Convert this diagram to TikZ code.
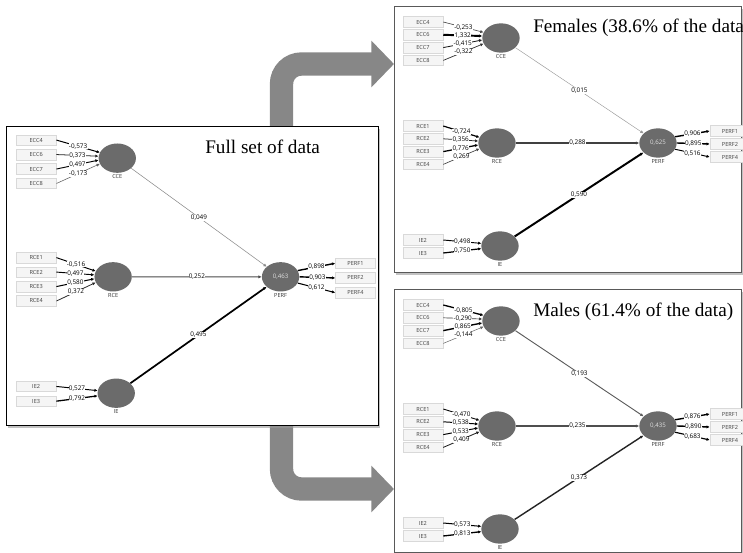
\documentclass[tikz,border=0pt]{standalone}
\usepackage{fontspec}
\setmainfont{Liberation Serif}
\newfontfamily\uifont{Open Sans}
\usetikzlibrary{arrows.meta,shapes.geometric,shadows,backgrounds}

% 小数点换成逗号
\def\splitdot#1.#2\relax{#1,#2}
\newcommand{\commafy}[1]{\expandafter\splitdot#1\relax}

\tikzset{
  panel/.style={draw=gray!70!black, line width=0.8pt, fill=white, inner sep=0pt, anchor=north west,
    drop shadow={shadow xshift=1.2pt, shadow yshift=-1.5pt, fill=gray!80, opacity=0.6}},
  indicator/.style={draw=gray!30, fill=gray!8, minimum width=30pt, minimum height=7.9pt, inner sep=0pt,
    font=\uifont\fontsize{4.2}{4.2}\selectfont, text=black!75},
  construct/.style={ellipse, fill=black!58, minimum width=28pt, minimum height=22pt, inner sep=0pt,
    font=\uifont\fontsize{4.6}{4.6}\selectfont, text=gray!25, label distance=1.5pt},
  conlabel/.style={font=\uifont\fontsize{4.2}{4.2}\selectfont, text=black!80, inner sep=1pt},
  loading/.style={-{Latex[length=2.4pt,width=2.4pt]}},
  numlabel/.style={fill=white, inner sep=0.2pt, font=\uifont\fontsize{4.8}{4.8}\selectfont},
  title/.style={font=\fontsize{14.4}{14.4}\selectfont, inner sep=0pt, anchor=base west},
  bigarrow/.style={draw=black!47, line width=17.5pt, rounded corners=15pt,
    -{Triangle[length=17pt,width=34pt]}}
}

% 一个 PLS 路径模型: 前缀, ECC, RCE, IE, PERF, 路径系数, R2
\newcommand{\plsmodel}[7]{%
  % 潜变量
  \node[construct, label={[conlabel]below:CCE}] (#1CCE) at (107,32) {};
  \node[construct, label={[conlabel]below:RCE}] (#1RCE) at (103,137) {};
  \node[construct, label={[conlabel]below:IE}] (#1IE) at (106,240) {};
  \node[construct, label={[conlabel]below:PERF}] (#1PERF) at (264,137) {#7};
  % 指标 -> 潜变量
  \foreach \n/\v [count=\i] in {#2} {
    \pgfmathsetmacro\yy{16+12.8*(\i-1)}
    \pgfmathtruncatemacro\a{162+12*(\i-1)}
    \pgfmathsetmacro\w{0.25+0.9*abs(\v)}
    \pgfmathtruncatemacro\c{min(100,45+110*abs(\v))}
    \node[indicator] (#1ECC\n) at (29,\yy) {ECC\n};
    \draw[loading, line width=\w pt, draw=black!\c] (#1ECC\n.east) -- (#1CCE.\a)
      node[numlabel, pos=0.5] {\commafy{\v}};
  }
  \foreach \n/\v [count=\i] in {#3} {
    \pgfmathsetmacro\yy{120+12.8*(\i-1)}
    \pgfmathtruncatemacro\a{162+12*(\i-1)}
    \pgfmathsetmacro\w{0.25+0.9*abs(\v)}
    \pgfmathtruncatemacro\c{min(100,45+110*abs(\v))}
    \node[indicator] (#1RCE\n) at (29,\yy) {RCE\n};
    \draw[loading, line width=\w pt, draw=black!\c] (#1RCE\n.east) -- (#1RCE.\a)
      node[numlabel, pos=0.5] {\commafy{\v}};
  }
  \foreach \n/\v [count=\i] in {#4} {
    \pgfmathsetmacro\yy{234+13*(\i-1)}
    \pgfmathtruncatemacro\a{172+16*(\i-1)}
    \pgfmathsetmacro\w{0.25+0.9*abs(\v)}
    \pgfmathtruncatemacro\c{min(100,45+110*abs(\v))}
    \node[indicator] (#1IE\n) at (29,\yy) {IE\n};
    \draw[loading, line width=\w pt, draw=black!\c] (#1IE\n.east) -- (#1IE.\a)
      node[numlabel, pos=0.5] {\commafy{\v}};
  }
  % 潜变量 -> 指标
  \foreach \n/\v [count=\i] in {#5} {
    \pgfmathsetmacro\yy{125+13*(\i-1)}
    \pgfmathtruncatemacro\a{20-20*(\i-1)}
    \pgfmathsetmacro\w{0.25+0.9*abs(\v)}
    \pgfmathtruncatemacro\c{min(100,45+110*abs(\v))}
    \node[indicator] (#1PERF\n) at (336,\yy) {PERF\n};
    \draw[loading, line width=\w pt, draw=black!\c] (#1PERF.\a) -- (#1PERF\n.west)
      node[numlabel, pos=0.5] {\commafy{\v}};
  }
  % 路径系数
  \foreach \s/\v in {#6} {
    \pgfmathsetmacro\w{0.3+2.0*abs(\v)}
    \pgfmathtruncatemacro\c{min(100,40+125*abs(\v))}
    \draw[loading, line width=\w pt, draw=black!\c] (#1\s) -- (#1PERF)
      node[numlabel, midway] {\commafy{\v}};
  }
}

\begin{document}
\begin{tikzpicture}[x=0.75pt, y=-0.75pt]
  \useasboundingbox (0,0) rectangle (743,553);
  \clip (0,0) rectangle (743,553);

  % 三个面板
  \node[panel, draw=black, line width=0.9pt, minimum width=279pt, minimum height=224.25pt] (full) at (6,126) {};
  \node[panel, minimum width=260.25pt, minimum height=199.5pt] (fem) at (394,6) {};
  \node[panel, minimum width=260.25pt, minimum height=197.25pt] (mal) at (394,289) {};

  % 大箭头
  \coordinate (upbend) at (281.5,64);
  \coordinate (downbend) at (281.5,489);
  \begin{scope}[on background layer]
    \draw[bigarrow] (full.north -| upbend) |- (fem.west |- upbend);
    \draw[bigarrow] (full.south -| downbend) |- (mal.west |- downbend);
  \end{scope}

  % 全部数据
  \node[title] (fulltitle) at (205,153) {Full set of data};
  \begin{scope}[shift={(6,122)}, xscale=1.04, yscale=1.13]
    \plsmodel{all}{4/-0.573,6/0.373,7/0.497,8/-0.173}{1/-0.516,2/0.497,3/0.580,4/0.372}%
      {2/0.527,3/0.792}{1/0.898,2/0.903,4/0.612}{CCE/0.049,RCE/0.252,IE/0.495}{0,463}
  \end{scope}

  % 女性
  \node[title] (femtitle) at (533,32) {Females (38.6\% of the data)};
  \begin{scope}[shift={(394,6)}]
    \plsmodel{fem}{4/-0.253,6/1.332,7/-0.415,8/-0.322}{1/-0.724,2/0.356,3/0.776,4/0.269}%
      {2/0.498,3/0.750}{1/0.906,2/0.895,4/0.516}{CCE/0.015,RCE/0.288,IE/0.590}{0,625}
  \end{scope}

  % 男性
  \node[title] (maltitle) at (533,316) {Males (61.4\% of the data)};
  \begin{scope}[shift={(394,289)}]
    \plsmodel{mal}{4/-0.805,6/-0.290,7/0.865,8/-0.144}{1/-0.470,2/0.538,3/0.533,4/0.409}%
      {2/0.573,3/0.813}{1/0.876,2/0.890,4/0.683}{CCE/0.193,RCE/0.235,IE/0.373}{0,435}
  \end{scope}
\end{tikzpicture}
\end{document}
